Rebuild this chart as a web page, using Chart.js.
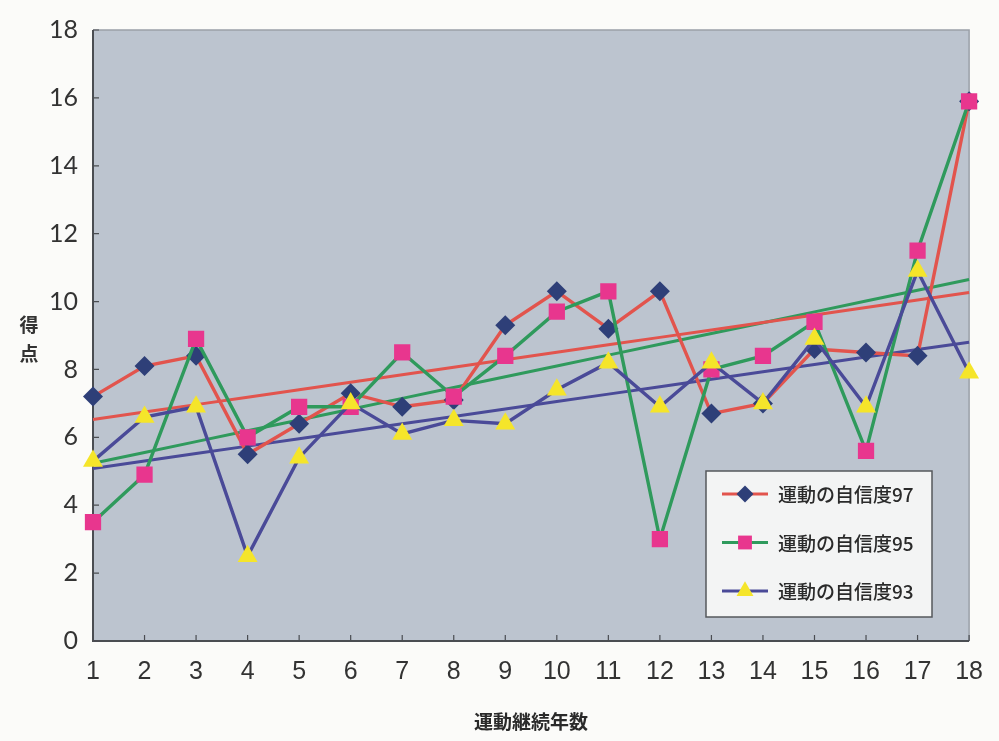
<!DOCTYPE html>
<html>
<head>
<meta charset="utf-8">
<script src="https://cdn.jsdelivr.net/npm/chart.js@4/dist/chart.umd.min.js"></script>
<style>
  html, body { margin: 0; padding: 0; background: #fbfbf9; }
  #wrap { position: relative; width: 999px; height: 741px; }
  canvas { display: block; }
  #ytitle {
    position: absolute; left: 16px; top: 309px; width: 26px;
    font: bold 19px "Noto Sans CJK JP", sans-serif; color: #333;
    line-height: 29px; text-align: center;
  }
</style>
</head>
<body>
<div id="wrap">
  <canvas id="c" width="999" height="741"></canvas>
  <div id="ytitle">得<br>点</div>
</div>
<script>
// 運動継続年数 (years of continued exercise)
const years = ['1','2','3','4','5','6','7','8','9','10','11','12','13','14','15','16','17','18'];

// 運動の自信度 scores per survey year
const confidence97 = [7.2, 8.1, 8.4, 5.5, 6.4, 7.3, 6.9, 7.1, 9.3, 10.3, 9.2, 10.3, 6.7, 7.0, 8.6, 8.5, 8.4, 15.9];
const confidence95 = [3.5, 4.9, 8.9, 6.0, 6.9, 6.9, 8.5, 7.2, 8.4, 9.7, 10.3, 3.0, 8.0, 8.4, 9.4, 5.6, 11.5, 15.9];
const confidence93 = [5.3, 6.6, 6.9, 2.5, 5.4, 7.0, 6.1, 6.5, 6.4, 7.4, 8.2, 6.9, 8.2, 7.0, 8.9, 6.9, 10.9, 7.9];

const seriesLabels = ['運動の自信度97', '運動の自信度95', '運動の自信度93'];
const yTickValues = [0, 2, 4, 6, 8, 10, 12, 14, 16, 18];

// least-squares linear trend evaluated at each year
function linearTrend(values) {
  const n = values.length;
  const xs = values.map((_, i) => i + 1);
  const mx = xs.reduce((a, b) => a + b, 0) / n;
  const my = values.reduce((a, b) => a + b, 0) / n;
  let sxy = 0, sxx = 0;
  for (let i = 0; i < n; i++) {
    sxy += (xs[i] - mx) * (values[i] - my);
    sxx += (xs[i] - mx) * (xs[i] - mx);
  }
  const slope = sxy / sxx;
  return xs.map(x => my + slope * (x - mx));
}

const RED = '#e2544d', GREEN = '#2f9a5c', PURPLE = '#4a4a98';
const NAVY = '#2e3f78', PINK = '#e8368e', YELLOW = '#f5e52a';
const PLOT_BG = '#bcc4cf';

// plot background, frame and inward tick marks
const plotFrame = {
  id: 'plotFrame',
  beforeDraw(chart) {
    const { ctx, chartArea: a } = chart;
    ctx.save();
    ctx.fillStyle = PLOT_BG;
    ctx.fillRect(a.left, a.top, a.right - a.left, a.bottom - a.top);
    ctx.restore();
  },
  beforeDatasetsDraw(chart) {
    const { ctx, chartArea: a, scales } = chart;
    ctx.save();
    ctx.strokeStyle = '#9aa0a8';
    ctx.lineWidth = 1.5;
    ctx.beginPath();
    ctx.moveTo(a.left, a.top); ctx.lineTo(a.right, a.top); ctx.lineTo(a.right, a.bottom);
    ctx.stroke();
    ctx.strokeStyle = '#4a4d52';
    ctx.lineWidth = 2;
    ctx.beginPath();
    ctx.moveTo(a.left, a.top); ctx.lineTo(a.left, a.bottom); ctx.lineTo(a.right, a.bottom);
    ctx.stroke();
    ctx.lineWidth = 1.2;
    ctx.beginPath();
    scales.y.ticks.forEach((t, i) => {
      const y = scales.y.getPixelForTick(i);
      ctx.moveTo(a.left, y); ctx.lineTo(a.left + 6, y);
    });
    scales.x.ticks.forEach((t, i) => {
      const x = scales.x.getPixelForTick(i);
      ctx.moveTo(x, a.bottom); ctx.lineTo(x, a.bottom - 6);
    });
    ctx.stroke();
    ctx.restore();
  }
};

function drawMarker(ctx, style, r, x, y, color) {
  ctx.save();
  ctx.fillStyle = color;
  if (Chart.helpers && Chart.helpers.drawPoint) {
    Chart.helpers.drawPoint(ctx, { pointStyle: style, radius: r, rotation: 0, borderWidth: 0 }, x, y);
  }
  ctx.restore();
}

// boxed legend inside the plot: line sample + marker + label
const boxLegend = {
  id: 'boxLegend',
  afterDraw(chart) {
    const { ctx } = chart;
    const bx = 706, by = 471, bw = 226, bh = 146;
    ctx.save();
    ctx.fillStyle = '#f3f4f4';
    ctx.fillRect(bx, by, bw, bh);
    ctx.strokeStyle = '#55585c';
    ctx.lineWidth = 1.5;
    ctx.strokeRect(bx, by, bw, bh);
    const rows = chart.data.datasets.filter(d => d.inLegend).sort((p, q) => p.legendRow - q.legendRow);
    rows.forEach((d, i) => {
      const cy = by + 23 + i * 48.5;
      ctx.strokeStyle = d.borderColor;
      ctx.lineWidth = 3;
      ctx.beginPath();
      ctx.moveTo(bx + 16, cy); ctx.lineTo(bx + 62, cy);
      ctx.stroke();
      drawMarker(ctx, d.pointStyle, d.pointRadius * 0.85, bx + 39, cy, d.pointBackgroundColor);
      ctx.fillStyle = '#2a2a2a';
      ctx.font = '500 19px "Noto Sans CJK JP", sans-serif';
      ctx.textBaseline = 'middle';
      ctx.textAlign = 'left';
      ctx.fillText(d.label, bx + 72, cy + 1);
    });
    ctx.restore();
  }
};

function trendSet(values, color, ord) {
  return {
    label: 'trend', data: linearTrend(values), borderColor: color, borderWidth: 3,
    pointRadius: 0, pointHoverRadius: 0, fill: false, tension: 0, order: ord, inLegend: false
  };
}

function dataSet(label, values, lineColor, style, markColor, radius, ord, row) {
  return {
    label, data: values, borderColor: lineColor, borderWidth: 3.4,
    pointStyle: style, pointRadius: radius, pointHoverRadius: radius,
    pointBackgroundColor: markColor, pointBorderColor: markColor, pointBorderWidth: 0,
    fill: false, tension: 0, order: ord, inLegend: true, legendRow: row
  };
}

new Chart(document.getElementById('c'), {
  type: 'line',
  data: {
    labels: years,
    datasets: [
      dataSet(seriesLabels[2], confidence93, PURPLE, 'triangle', YELLOW, 11.5, 1, 2),
      dataSet(seriesLabels[1], confidence95, GREEN, 'rect', PINK, 11.5, 2, 1),
      dataSet(seriesLabels[0], confidence97, RED, 'rectRot', NAVY, 10, 3, 0),
      trendSet(confidence97, RED, 4),
      trendSet(confidence95, GREEN, 5),
      trendSet(confidence93, PURPLE, 6)
    ]
  },
  options: {
    responsive: false,
    animation: false,
    devicePixelRatio: 1,
    layout: { padding: { top: 22, right: 18, bottom: 0, left: 0 } },
    plugins: { legend: { display: false }, tooltip: { enabled: false } },
    scales: {
      x: {
        type: 'category', offset: false,
        grid: { display: false, drawTicks: false },
        border: { display: false },
        ticks: {
          color: '#333', padding: 16, maxRotation: 0, autoSkip: false,
          font: { family: '"Liberation Sans Narrow", "Liberation Sans", sans-serif', size: 25 }
        },
        title: {
          display: true, text: '運動継続年数', color: '#2a2a2a',
          font: { family: '"Noto Sans CJK JP", sans-serif', size: 19, weight: 'bold' },
          padding: { top: 4, bottom: 8 }
        },
        afterFit(s) { s.height = 100; }
      },
      y: {
        min: 0, max: 18,
        grid: { display: false, drawTicks: false },
        border: { display: false },
        afterBuildTicks(s) { s.ticks = yTickValues.map(v => ({ value: v })); },
        ticks: {
          color: '#333', padding: 15,
          font: { family: 'Lato, "DejaVu Sans", sans-serif', size: 25 }
        },
        afterFit(s) { s.width = 93; }
      }
    }
  },
  plugins: [plotFrame, boxLegend]
});
</script>
</body>
</html>
